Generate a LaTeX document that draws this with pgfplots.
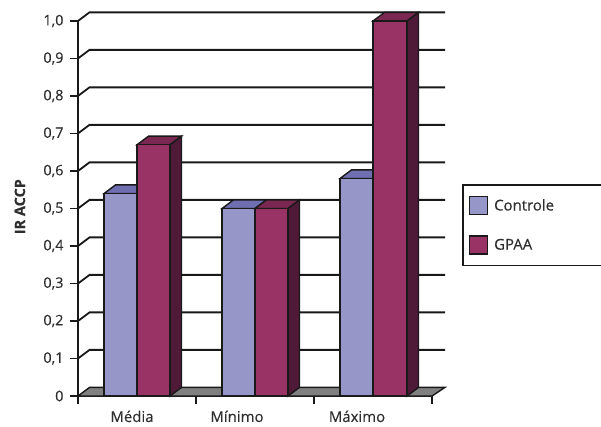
\documentclass[border=0pt]{standalone}
\usepackage{fontspec}
\setmainfont{Open Sans}[FakeBold=0.25]
\usepackage{pgfplots}
\pgfplotsset{compat=1.18}
\definecolor{ctrl}{HTML}{9696C8}
\definecolor{ctrltop}{HTML}{6E6EB0}
\definecolor{gpaa}{HTML}{993366}
\definecolor{gpaatop}{HTML}{7A2852}
\definecolor{gpaaside}{HTML}{4E1A38}
\definecolor{ink}{HTML}{2E2E2E}
\tikzset{
  edge/.style={draw=black!90, line width=1.4bp, line join=miter},
  grid line/.style={black!90, line width=1.8bp},
}
\begin{document}
\begin{tikzpicture}[x=1bp,y=1bp]
\path[use as bounding box] (-78,-30) rectangle (523,396);
\begin{axis}[
  scale only axis,
  width=354bp, height=375bp,
  xmin=0, xmax=354, ymin=0, ymax=1,
  clip=false,
  axis lines=left,
  axis line style={-, black!90, line width=1.8bp},
  every tick/.style={black!90, line width=1.8bp},
  major tick length=8bp,
  tick align=outside,
  /pgf/number format/assume math mode=true,
  xtick={0,118,236,354},
  xticklabels={},
  extra x ticks={54,159,279},
  extra x tick labels={Média,Mínimo,Máximo},
  extra x tick style={major tick length=0bp, every tick/.style={draw=none},
    tick label style={yshift=-11bp, font=\fontsize{15}{17}\selectfont}},
  ytick={0,0.1,0.2,0.3,0.4,0.5,0.6,0.7,0.8,0.9,1},
  yticklabels={0,{0,1},{0,2},{0,3},{0,4},{0,5},{0,6},{0,7},{0,8},{0,9},{1,0}},
  tick label style={font=\fontsize{14.5}{17}\selectfont, text=ink},
  yticklabel style={xshift=-3bp},
  ylabel={\textbf{IR ACCP}},
  ylabel style={font=\fontsize{14.5}{17}\selectfont, text=ink, at={(axis description cs:-0.164,0.505)}, anchor=center},
  legend style={
    at={(axis cs:384,0.565)}, anchor=north west,
    draw=black!90, line width=1.5bp, fill=white,
    font=\fontsize{15}{17}\selectfont, text=ink,
    inner xsep=6bp, inner ysep=11bp,
    row sep=20bp,
    legend cell align=left,
    nodes={text width=112bp, inner sep=0pt, anchor=west},
  },
]
% back wall grid lines, left wall step included
\addplot[grid line, forget plot] coordinates {(0,0.1) (11.5,0.123) (367,0.123)};
\addplot[grid line, forget plot] coordinates {(0,0.2) (11.5,0.223) (367,0.223)};
\addplot[grid line, forget plot] coordinates {(0,0.3) (11.5,0.323) (367,0.323)};
\addplot[grid line, forget plot] coordinates {(0,0.4) (11.5,0.423) (367,0.423)};
\addplot[grid line, forget plot] coordinates {(0,0.5) (11.5,0.523) (367,0.523)};
\addplot[grid line, forget plot] coordinates {(0,0.6) (11.5,0.623) (367,0.623)};
\addplot[grid line, forget plot] coordinates {(0,0.7) (11.5,0.723) (367,0.723)};
\addplot[grid line, forget plot] coordinates {(0,0.8) (11.5,0.823) (367,0.823)};
\addplot[grid line, forget plot] coordinates {(0,0.9) (11.5,0.923) (367,0.923)};
\addplot[grid line, forget plot] coordinates {(0,1) (11.5,1.023) (367,1.023)};
% floor
\addplot[edge, fill=black!50, forget plot] coordinates {(0,0) (11.5,0.023) (367,0.023) (354,0)} -- cycle;
% Media, controle
\addplot[edge, fill=ctrltop, forget plot] coordinates {(26,0.54) (37.5,0.563) (70.5,0.563) (59,0.54)} -- cycle;
\addplot[edge, fill=ctrl, forget plot] coordinates {(26,0) (26,0.54) (59,0.54) (59,0)} -- cycle;
% Media, GPAA
\addplot[edge, fill=gpaatop, forget plot] coordinates {(59,0.67) (70.5,0.693) (103.5,0.693) (92,0.67)} -- cycle;
\addplot[edge, fill=gpaaside, forget plot] coordinates {(92,0) (103.5,0.023) (103.5,0.693) (92,0.67)} -- cycle;
\addplot[edge, fill=gpaa, forget plot] coordinates {(59,0) (59,0.67) (92,0.67) (92,0)} -- cycle;
% Minimo, controle
\addplot[edge, fill=ctrltop, forget plot] coordinates {(144,0.5) (155.5,0.523) (188.5,0.523) (177,0.5)} -- cycle;
\addplot[edge, fill=ctrl, forget plot] coordinates {(144,0) (144,0.5) (177,0.5) (177,0)} -- cycle;
% Minimo, GPAA
\addplot[edge, fill=gpaatop, forget plot] coordinates {(177,0.5) (188.5,0.523) (221.5,0.523) (210,0.5)} -- cycle;
\addplot[edge, fill=gpaaside, forget plot] coordinates {(210,0) (221.5,0.023) (221.5,0.523) (210,0.5)} -- cycle;
\addplot[edge, fill=gpaa, forget plot] coordinates {(177,0) (177,0.5) (210,0.5) (210,0)} -- cycle;
% Maximo, controle
\addplot[edge, fill=ctrltop, forget plot] coordinates {(262,0.58) (273.5,0.603) (306.5,0.603) (295,0.58)} -- cycle;
\addplot[edge, fill=ctrl, forget plot] coordinates {(262,0) (262,0.58) (295,0.58) (295,0)} -- cycle;
% Maximo, GPAA
\addplot[edge, fill=gpaatop, forget plot] coordinates {(295,1) (306.5,1.023) (340.5,1.023) (329,1)} -- cycle;
\addplot[edge, fill=gpaaside, forget plot] coordinates {(329,0) (340.5,0.023) (340.5,1.023) (329,1)} -- cycle;
\addplot[edge, fill=gpaa, forget plot] coordinates {(295,0) (295,1) (329,1) (329,0)} -- cycle;
% legend
\addlegendimage{legend image code/.code={\draw[edge, fill=ctrl] (0bp,-9bp) rectangle (18bp,9bp);}}
\addlegendentry{\hspace*{6bp}Controle}
\addlegendimage{legend image code/.code={\draw[edge, fill=gpaa] (0bp,-9bp) rectangle (18bp,9bp);}}
\addlegendentry{\hspace*{6bp}GPAA}
\end{axis}
\end{tikzpicture}
\end{document}
